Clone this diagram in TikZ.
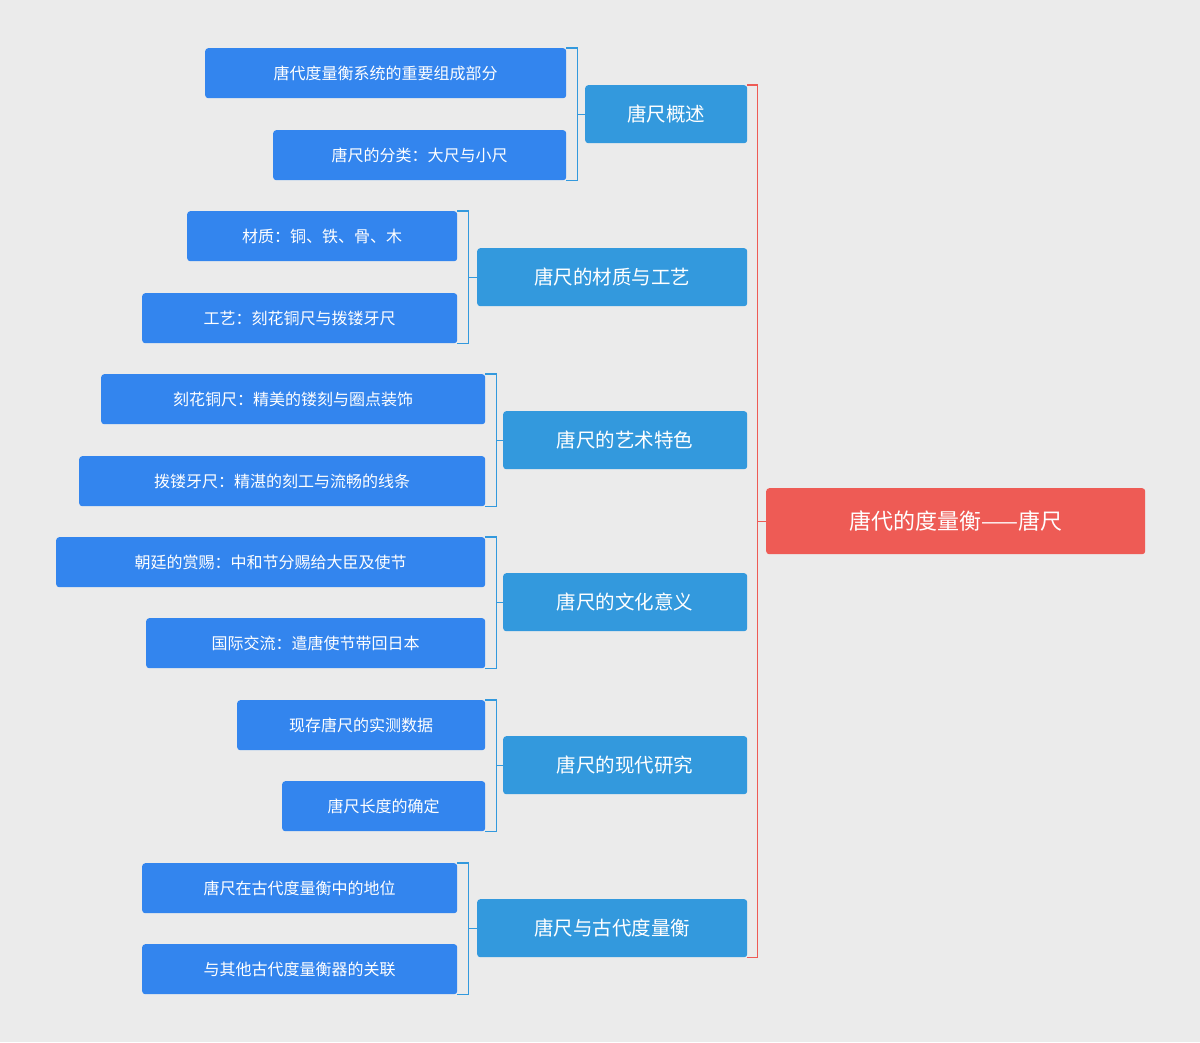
\documentclass[tikz,border=0pt]{standalone}
\usepackage{fontspec}
\setmainfont{Noto Sans CJK SC}
\begin{document}
\begin{tikzpicture}[x=1pt,y=1pt,
  base/.style={rounded corners=3pt,text=white,inner sep=0pt,anchor=north west},
  root/.style={base,fill=rootred,font=\fontsize{22}{24}\selectfont},
  lone/.style={base,fill=lblue,font=\fontsize{19.5}{22}\selectfont},
  ltwo/.style={base,fill=dblue,font=\fontsize{16}{18}\selectfont},
  brk/.style={draw=lblue,line width=1.3pt},
  rbrk/.style={draw=rootred,line width=1.3pt}]
\definecolor{rootred}{HTML}{EE5B55}
\definecolor{lblue}{HTML}{3399DD}
\definecolor{dblue}{HTML}{3385EE}
\fill[fill={rgb,255:red,235;green,235;blue,235}] (0,0) rectangle (1200,-1042);
\useasboundingbox (0,0) rectangle (1200,-1042);
\node[root,minimum width=379pt,minimum height=66pt] (r) at (766,-488) {唐代的度量衡——唐尺};
% level 1
\newcommand{\lo}[5]{\node[lone,minimum width=#3pt,minimum height=58pt] (#1) at (#2,-#4) {#5};}
\lo{a}{585}{162}{85}{唐尺概述}
\lo{b}{477}{270}{248}{唐尺的材质与工艺}
\lo{c}{503}{244}{411}{唐尺的艺术特色}
\lo{d}{503}{244}{573}{唐尺的文化意义}
\lo{e}{503}{244}{736}{唐尺的现代研究}
\lo{f}{477}{270}{899}{唐尺与古代度量衡}
% level 2
\newcommand{\lt}[5]{\node[ltwo,minimum width=#3pt,minimum height=50pt] (#1) at (#2,-#4) {#5};}
\lt{a1}{205}{361}{48}{唐代度量衡系统的重要组成部分}
\lt{a2}{273}{293}{130}{唐尺的分类：大尺与小尺}
\lt{b1}{187}{270}{211}{材质：铜、铁、骨、木}
\lt{b2}{142}{315}{293}{工艺：刻花铜尺与拨镂牙尺}
\lt{c1}{101}{384}{374}{刻花铜尺：精美的镂刻与圈点装饰}
\lt{c2}{79}{406}{456}{拨镂牙尺：精湛的刻工与流畅的线条}
\lt{d1}{56}{429}{537}{朝廷的赏赐：中和节分赐给大臣及使节}
\lt{d2}{146}{339}{618}{国际交流：遣唐使节带回日本}
\lt{e1}{237}{248}{700}{现存唐尺的实测数据}
\lt{e2}{282}{203}{781}{唐尺长度的确定}
\lt{f1}{142}{315}{863}{唐尺在古代度量衡中的地位}
\lt{f2}{142}{315}{944}{与其他古代度量衡器的关联}
% brackets
\foreach \p/\q/\s in {a/a1/a2,b/b1/b2,c/c1/c2,d/d1/d2,e/e1/e2,f/f1/f2}{
  \draw[brk] (\q.north east) -- ++(11,0) coordinate (t\p) |- (\s.south east);
  \draw[brk] (\p.west) -- (\p.west -| t\p);
}
\draw[rbrk] (a.north east) -- ++(10,0) coordinate (tr) |- (f.south east);
\draw[rbrk] (r.west) -- (r.west -| tr);
\end{tikzpicture}
\end{document}
